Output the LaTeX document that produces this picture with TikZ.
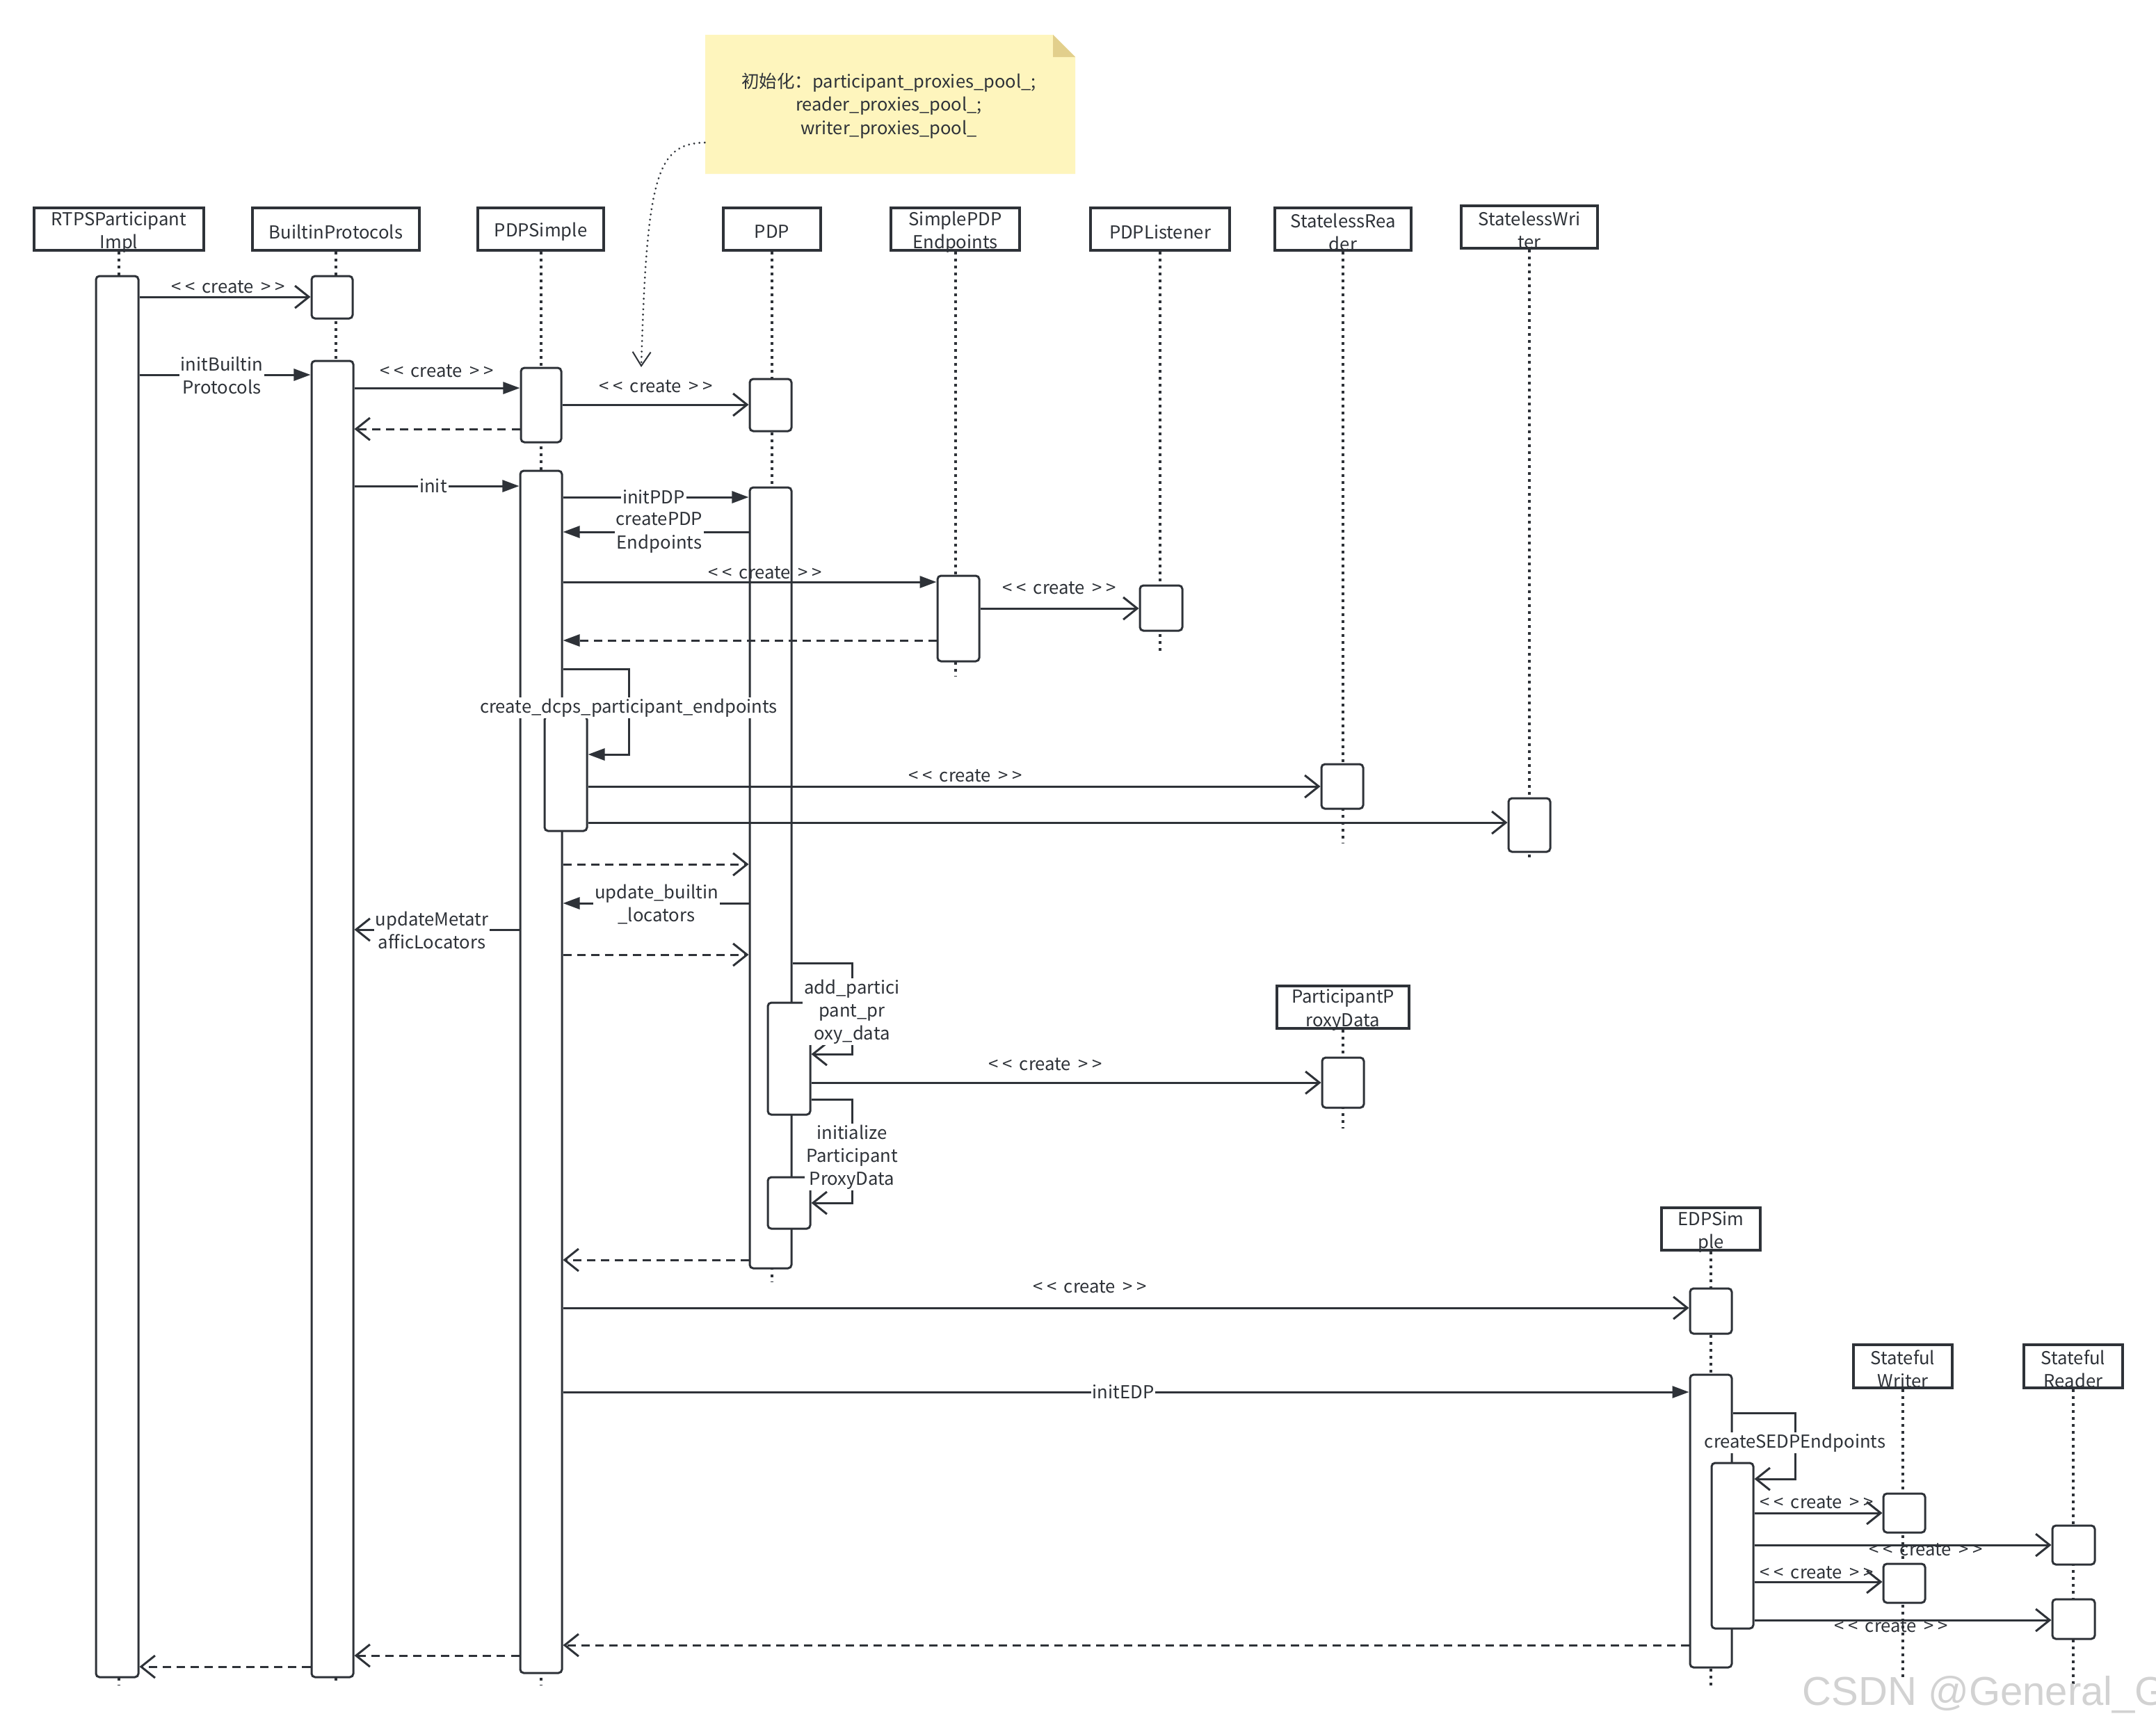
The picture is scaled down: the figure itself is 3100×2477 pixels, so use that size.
\documentclass[tikz,border=0pt]{standalone}
\usepackage{fontspec}
\setmainfont[Ligatures=NoCommon]{Noto Sans CJK SC}
\newfontfamily\wmfont{Liberation Sans}
\usetikzlibrary{arrows.meta,fit}
\definecolor{ink}{HTML}{2E3238}
\definecolor{notefill}{HTML}{FEF5BD}
\definecolor{notefold}{HTML}{E2CF8C}
\newcommand\crt{<\kern0.22em<\ \,create\ \,>\kern0.22em>}
\tikzset{
  hdr/.style={draw=ink, line width=0.035cm, inner sep=0pt},
  hdrtext/.style={font=\fontsize{7.3}{9.4}\selectfont, text=ink, align=center, inner sep=0pt, yshift=-0.04cm},
  life/.style={draw=ink, line width=0.04cm, dash pattern=on 0.04cm off 0.06cm},
  act/.style={draw=ink, line width=0.03cm, fill=white, rounded corners=0.05cm, inner sep=0pt},
  msg/.style={draw=ink, line width=0.03cm},
  ret/.style={msg, dash pattern=on 0.12cm off 0.08cm},
  fhead/.style={-{Triangle[length=0.24cm,width=0.17cm]}},
  ohead/.style={-{Straight Barb[length=0.2cm,width=0.32cm]}},
  lbl/.style={font=\fontsize{7.3}{9.4}\selectfont, text=ink, align=center, inner sep=0.02cm},
  lblw/.style={lbl, fill=white},
}
\begin{document}
\begin{tikzpicture}[x=0.01cm, y=-0.01cm]
\useasboundingbox (0,0) rectangle (3100,2477);
\fill[white] (0,0) rectangle (3100,2477);

% ---------- note ----------
\fill[notefill] (1014,50) -- (1514,50) -- (1546,82) -- (1546,250) -- (1014,250) -- cycle;
\fill[notefold] (1514,50) -- (1514,82) -- (1546,82) -- cycle;
\node[inner sep=0pt, fit={(1014,50) (1546,250)}] (nt) {};
\node[lbl, font=\fontsize{7.25}{9.5}\selectfont] (ntx) at (1278,152) {初始化：participant\_proxies\_pool\_;\\reader\_proxies\_pool\_;\\writer\_proxies\_pool\_};
\coordinate (ntend) at (922,528);
\draw[ink, line width=0.03cm, line cap=round, dash pattern=on 0.001cm off 0.075cm,
      -{Straight Barb[length=0.2cm,width=0.26cm,line width=0.02cm]}]
  (nt.west |- 0,205) .. controls (945,207) and (930,250) .. (ntend);

% ---------- headers ----------
\node[hdr, fit={(49,299) (293,360)}, label={[hdrtext]center:RTPSParticipant\\Impl}] (hR) {};
\node[hdr, fit={(363,299) (603,360)}, label={[hdrtext]center:BuiltinProtocols}] (hB) {};
\node[hdr, fit={(687,299) (868,360)}, label={[hdrtext]center:PDPSimple}] (hS) {};
\node[hdr, fit={(1040,299) (1180,360)}, label={[hdrtext]center:PDP}] (hP) {};
\node[hdr, fit={(1281,299) (1466,360)}, label={[hdrtext]center:SimplePDP\\Endpoints}] (hE) {};
\node[hdr, fit={(1568,299) (1768,360)}, label={[hdrtext]center:PDPListener}] (hL) {};
\node[hdr, fit={(1833,299) (2029,360)}, label={[hdrtext]center:StatelessRea\\der}] (hSR) {};
\node[hdr, fit={(2101,296) (2297,357)}, label={[hdrtext]center:StatelessWri\\ter}] (hSW) {};
\node[hdr, fit={(1836,1418) (2026,1479)}, label={[hdrtext]center:ParticipantP\\roxyData}] (hPP) {};
\node[hdr, fit={(2389,1737) (2531,1798)}, label={[hdrtext]center:EDPSim\\ple}] (hD) {};
\node[hdr, fit={(2665,1934) (2807,1996)}, label={[hdrtext]center:Stateful\\Writer}] (hFW) {};
\node[hdr, fit={(2910,1934) (3052,1996)}, label={[hdrtext]center:Stateful\\Reader}] (hFR) {};

% ---------- lifelines ----------
\coordinate (eR) at (171,2423);
\coordinate (eB) at (483,2420);
\coordinate (eS) at (777.5,2423);
\coordinate (eP) at (1110,1843);
\coordinate (eE) at (1373.5,973);
\coordinate (eL) at (1668,942);
\coordinate (eSR) at (1931,1213);
\coordinate (eSW) at (2199,1238);
\coordinate (ePP) at (1931,1623);
\coordinate (eD) at (2460,2427);
\coordinate (eFW) at (2736,2413);
\coordinate (eFR) at (2981,2422);
\foreach \h/\e in {hR/eR,hB/eB,hS/eS,hP/eP,hE/eE,hL/eL,hSR/eSR,hSW/eSW,hPP/ePP,hD/eD,hFW/eFW,hFR/eFR}
  \draw[life] (\h.south) -- (\e);

% ---------- activation bars ----------
\node[act, fit={(138,397) (199,2412)}] (aR) {};
\node[act, fit={(448,397) (507,458)}] (aB1) {};
\node[act, fit={(448,519) (508,2412)}] (aB2) {};
\node[act, fit={(749,529) (807,636)}] (aS1) {};
\node[act, fit={(748,677) (808,2406)}] (aS2) {};
\node[act, fit={(783,1030) (844,1195)}] (aS3) {};
\node[act, fit={(1078,545) (1138,620)}] (aP1) {};
\node[act, fit={(1078,701) (1138,1824)}] (aP2) {};
\node[act, fit={(1104,1442) (1165,1603)}] (aP3) {};
\node[act, fit={(1104,1693) (1165,1767)}] (aP4) {};
\node[act, fit={(1348,828) (1408,951)}] (aE) {};
\node[act, fit={(1639,842) (1700,907)}] (aL) {};
\node[act, fit={(1900,1099) (1960,1163)}] (aSR) {};
\node[act, fit={(2169,1148) (2229,1225)}] (aSW) {};
\node[act, fit={(1901,1521) (1961,1593)}] (aPP) {};
\node[act, fit={(2430,1853) (2490,1918)}] (aD1) {};
\node[act, fit={(2430,1977) (2490,2398)}] (aD2) {};
\node[act, fit={(2461,2104) (2521,2342)}] (aD3) {};
\node[act, fit={(2708,2148) (2768,2204)}] (aFW1) {};
\node[act, fit={(2708,2249) (2768,2305)}] (aFW2) {};
\node[act, fit={(2951,2194) (3012,2250)}] (aFR1) {};
\node[act, fit={(2951,2300) (3012,2357)}] (aFR2) {};

% ---------- messages ----------
\draw[msg,ohead] (aR.east|-0,427) -- (aB1.west|-0,427);
\draw[msg,fhead] (aR.east|-0,539) -- (aB2.west|-0,539);
\draw[msg,fhead] (aB2.east|-0,558) -- (aS1.west|-0,558);
\draw[msg,ohead] (aS1.east|-0,582) -- (aP1.west|-0,582);
\draw[ret,ohead] (aS1.west|-0,617) -- (aB2.east|-0,617);
\draw[msg,fhead] (aB2.east|-0,699) -- (aS2.west|-0,699);
\draw[msg,fhead] (aS2.east|-0,715) -- (aP2.west|-0,715);
\draw[msg,fhead] (aP2.west|-0,765) -- (aS2.east|-0,765);
\draw[msg,fhead] (aS2.east|-0,837) -- (aE.west|-0,837);
\draw[msg,ohead] (aE.east|-0,875) -- (aL.west|-0,875);
\draw[ret,fhead] (aE.west|-0,921) -- (aS2.east|-0,921);
\draw[msg,fhead] (aS2.east|-0,962) -- (904,962) -- (904,1085) -- (aS3.east|-0,1085);
\draw[msg,ohead] (aS3.east|-0,1131) -- (aSR.west|-0,1131);
\draw[msg,ohead] (aS3.east|-0,1183) -- (aSW.west|-0,1183);
\draw[ret,ohead] (aS2.east|-0,1243) -- (aP2.west|-0,1243);
\draw[msg,fhead] (aP2.west|-0,1299) -- (aS2.east|-0,1299);
\draw[msg,ohead] (aS2.west|-0,1337) -- (aB2.east|-0,1337);
\draw[ret,ohead] (aS2.east|-0,1373) -- (aP2.west|-0,1373);
\draw[msg,ohead] (aP2.east|-0,1385) -- (1225,1385) -- (1225,1516) -- (aP3.east|-0,1516);
\draw[msg,ohead] (aP3.east|-0,1557) -- (aPP.west|-0,1557);
\draw[msg,ohead] (aP3.east|-0,1581) -- (1225,1581) -- (1225,1730) -- (aP4.east|-0,1730);
\draw[ret,ohead] (aP2.west|-0,1812) -- (aS2.east|-0,1812);
\draw[msg,ohead] (aS2.east|-0,1881) -- (aD1.west|-0,1881);
\draw[msg,fhead] (aS2.east|-0,2002) -- (aD2.west|-0,2002);
\draw[msg,ohead] (aD2.east|-0,2032) -- (2581,2032) -- (2581,2127) -- (aD3.east|-0,2127);
\draw[msg,ohead] (aD3.east|-0,2176) -- (aFW1.west|-0,2176);
\draw[msg,ohead] (aD3.east|-0,2222) -- (aFR1.west|-0,2222);
\draw[msg,ohead] (aD3.east|-0,2275) -- (aFW2.west|-0,2275);
\draw[msg,ohead] (aD3.east|-0,2330) -- (aFR2.west|-0,2330);
\draw[ret,ohead] (aD2.west|-0,2366) -- (aS2.east|-0,2366);
\draw[ret,ohead] (aS2.west|-0,2381) -- (aB2.east|-0,2381);
\draw[ret,ohead] (aB2.west|-0,2397) -- (aR.east|-0,2397);

% ---------- labels ----------
\node[lbl]  (l1)  at (328,413)   {\crt};
\node[lblw] (l2)  at (319,540)   {initBuiltin\\Protocols};
\node[lbl]  (l3)  at (628,534)   {\crt};
\node[lbl]  (l4)  at (943,556)   {\crt};
\node[lblw] (l6)  at (623,699)   {init};
\node[lblw] (l7)  at (940,715)   {initPDP};
\node[lblw] (l8)  at (948,766)   {createPDP\\Endpoints};
\node[lbl]  (l9)  at (1100,824)  {\crt};
\node[lbl]  (l10) at (1523,846)  {\crt};
\node[lblw] (l12) at (904,1018)  {create\_dcps\_participant\_endpoints};
\node[lbl]  (l13) at (1388,1116) {\crt};
\node[lblw] (l16) at (944,1301)  {update\_builtin\\\_locators};
\node[lblw] (l17) at (621,1338)  {updateMetatr\\afficLocators};
\node[lblw] (l19) at (1225,1455) {add\_partici\\pant\_pr\\oxy\_data};
\node[lbl]  (l20) at (1503,1531) {\crt};
\node[lblw] (l21) at (1225,1664) {initialize\\Participant\\ProxyData};
\node[lbl]  (l23) at (1567,1851) {\crt};
\node[lblw] (l24) at (1615,2002) {initEDP};
\node[lblw] (l25) at (2581,2075) {createSEDPEndpoints};
\node[lbl]  (l26) at (2612,2161) {\crt};
\node[lbl]  (l27) at (2769,2229) {\crt};
\node[lbl]  (l28) at (2612,2262) {\crt};
\node[lbl]  (l29) at (2719,2339) {\crt};

% ---------- watermark ----------
\node[anchor=base west, inner sep=0pt, text=gray!35, font=\wmfont\fontsize{16.5}{18}\selectfont] (wm) at (2591,2452) {CSDN @General\_G};
\end{tikzpicture}
\end{document}
